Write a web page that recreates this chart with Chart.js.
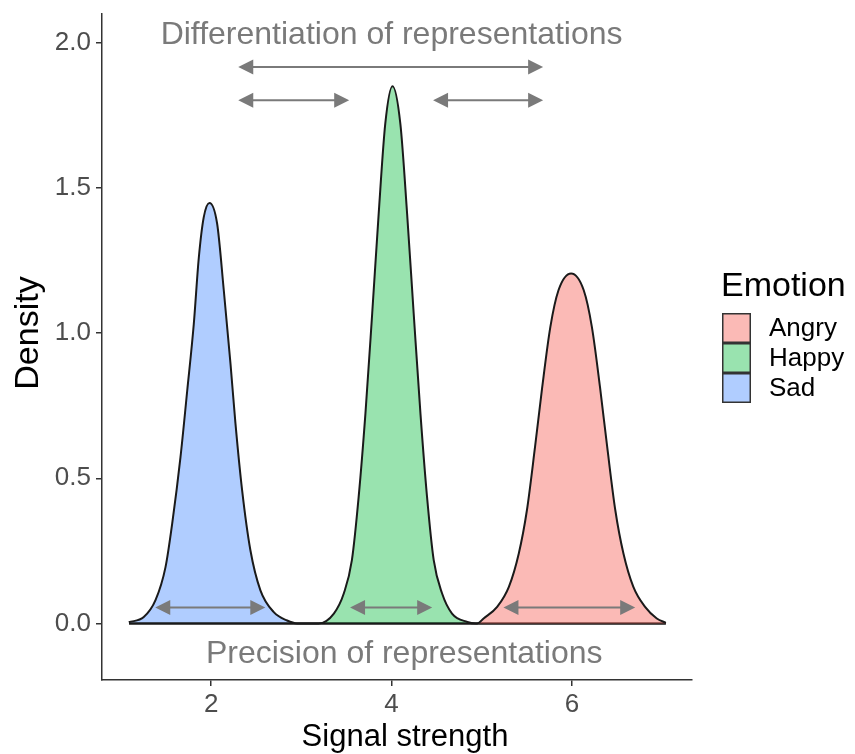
<!DOCTYPE html>
<html>
<head>
<meta charset="utf-8">
<script src="https://cdn.jsdelivr.net/npm/chart.js@4.4.1/dist/chart.umd.min.js"></script>
<style>
  html, body { margin: 0; padding: 0; background: #ffffff; }
  #wrap { width: 855px; height: 754px; }
</style>
</head>
<body>
<div id="wrap"><canvas id="c" width="855" height="754"></canvas></div>
<script>
// ---------------- DATA ----------------
const seriesLabels = ["Angry", "Happy", "Sad"];

const angryX = [1.09, 4.95, 5.02, 5.17, 5.30, 5.41, 5.50, 5.59, 5.67, 5.76, 5.85, 5.99, 6.13, 6.22, 6.31, 6.39, 6.48, 6.57, 6.68, 6.81, 6.94, 7.04];
const angryY = [0.00, 0.000, 0.017, 0.057, 0.126, 0.241, 0.390, 0.608, 0.815, 1.022, 1.148, 1.206, 1.148, 1.022, 0.815, 0.608, 0.390, 0.241, 0.126, 0.057, 0.017, 0.002];

const happyX = [1.09, 3.19, 3.36, 3.47, 3.56, 3.635, 3.71, 3.785, 3.857, 3.93, 4.01, 4.097, 4.172, 4.245, 4.32, 4.393, 4.467, 4.56, 4.67, 4.84, 4.93, 7.04];
const happyY = [0.00, 0.000, 0.034, 0.103, 0.218, 0.436, 0.723, 1.068, 1.412, 1.722, 1.851, 1.722, 1.412, 1.068, 0.723, 0.436, 0.218, 0.103, 0.034, 0.005, 0.000, 0.00];

const sadX = [1.087, 1.253, 1.383, 1.494, 1.568, 1.66, 1.734, 1.807, 1.863, 1.918, 1.981, 2.066, 2.14, 2.214, 2.269, 2.343, 2.435, 2.546, 2.694, 2.842, 2.953, 7.04];
const sadY = [0.004, 0.022, 0.080, 0.194, 0.344, 0.573, 0.800, 1.030, 1.260, 1.400, 1.449, 1.378, 1.148, 0.896, 0.690, 0.459, 0.252, 0.114, 0.039, 0.010, 0.000, 0.00];

const xTicks = [2, 4, 6];
const yTicks = [0.0, 0.5, 1.0, 1.5, 2.0];

// annotation arrows: [xStart, xEnd, y] in data units
const differentiationArrows = [[2.30, 5.68, 1.917], [2.30, 3.53, 1.803], [4.46, 5.68, 1.803]];
const precisionArrows = [[1.38, 2.60, 0.055], [3.54, 4.45, 0.055], [5.24, 6.70, 0.055]];
// annotation texts: [text, xCenter, yBaseline] in data units
const annotationTexts = [["Differentiation of representations", 4.0, 1.995], ["Precision of representations", 4.14, -0.137]];

const xTitle = "Signal strength";
const yTitle = "Density";
const legendTitle = "Emotion";
// -------------------------------------------------------------------------

const FONT = "'Liberation Sans', Arial, Helvetica, sans-serif";
const fills = { Angry: "rgba(248,118,109,0.5)", Happy: "rgba(0,186,56,0.4)", Sad: "rgba(97,156,255,0.5)" };

function pts(xs, ys) { return xs.map((x, i) => ({ x: x, y: ys[i] })); }
const seriesData = { Angry: pts(angryX, angryY), Happy: pts(happyX, happyY), Sad: pts(sadX, sadY) };

const datasets = seriesLabels.map(lab => ({
  label: lab,
  data: seriesData[lab],
  showLine: true,
  fill: "origin",
  backgroundColor: fills[lab],
  borderColor: "#1a1a1a",
  borderWidth: 2,
  pointRadius: 0,
  pointHoverRadius: 0,
  cubicInterpolationMode: "monotone"
}));

function drawArrow(ctx, x1, x2, y) {
  const L = 15, H = 7.5;
  ctx.save();
  ctx.strokeStyle = "#7a7a7a";
  ctx.fillStyle = "#7a7a7a";
  ctx.lineWidth = 2;
  ctx.beginPath();
  ctx.moveTo(x1 + L - 1, y);
  ctx.lineTo(x2 - L + 1, y);
  ctx.stroke();
  ctx.beginPath();
  ctx.moveTo(x1, y); ctx.lineTo(x1 + L, y - H); ctx.lineTo(x1 + L, y + H); ctx.closePath(); ctx.fill();
  ctx.beginPath();
  ctx.moveTo(x2, y); ctx.lineTo(x2 - L, y - H); ctx.lineTo(x2 - L, y + H); ctx.closePath(); ctx.fill();
  ctx.restore();
}

const annotPlugin = {
  id: "annot",
  afterDatasetsDraw(chart) {
    const ctx = chart.ctx, xs = chart.scales.x, ys = chart.scales.y;
    differentiationArrows.concat(precisionArrows).forEach(a => {
      drawArrow(ctx, xs.getPixelForValue(a[0]), xs.getPixelForValue(a[1]), ys.getPixelForValue(a[2]));
    });
    ctx.save();
    ctx.fillStyle = "#7a7a7a";
    ctx.font = "32px " + FONT;
    ctx.textAlign = "center";
    ctx.textBaseline = "alphabetic";
    annotationTexts.forEach(t => {
      ctx.fillText(t[0], xs.getPixelForValue(t[1]), ys.getPixelForValue(t[2]));
    });
    ctx.restore();
  },
  afterDraw(chart) {
    const ctx = chart.ctx, ca = chart.chartArea;
    ctx.save();
    // axis titles
    ctx.fillStyle = "#000000";
    ctx.font = "31px " + FONT;
    ctx.textAlign = "center";
    ctx.textBaseline = "alphabetic";
    ctx.fillText(xTitle, (ca.left + ca.right) / 2 + 8, 746);
    ctx.save();
    ctx.translate(38, 333);
    ctx.rotate(-Math.PI / 2);
    ctx.font = "34px " + FONT;
    ctx.fillText(yTitle, 0, 0);
    ctx.restore();
    // legend
    ctx.textAlign = "left";
    ctx.font = "34px " + FONT;
    ctx.fillText(legendTitle, 721, 296);
    const kx = 722, kw = 29, kh = 30, ky0 = 313;
    ctx.font = "26px " + FONT;
    chart.data.datasets.forEach((ds, i) => {
      const ky = ky0 + i * kh;
      ctx.fillStyle = "#ffffff";
      ctx.fillRect(kx, ky, kw, kh);
      ctx.fillStyle = ds.backgroundColor;
      ctx.fillRect(kx, ky, kw, kh);
      ctx.strokeStyle = "#333333";
      ctx.lineWidth = 1.5;
      ctx.strokeRect(kx + 0.75, ky + 0.75, kw - 1.5, kh - 1.5);
      ctx.fillStyle = "#000000";
      ctx.textBaseline = "middle";
      ctx.fillText(ds.label, 769, ky + kh / 2 + 1);
    });
    ctx.restore();
  }
};

new Chart(document.getElementById("c"), {
  type: "scatter",
  data: { datasets: datasets },
  options: {
    responsive: false,
    animation: false,
    devicePixelRatio: 1,
    layout: { padding: { left: 0, top: 14, right: 163, bottom: 0 } },
    plugins: { legend: { display: false }, tooltip: { enabled: false } },
    scales: {
      x: {
        type: "linear",
        min: 0.79, max: 7.33,
        afterBuildTicks: s => { s.ticks = xTicks.map(v => ({ value: v })); },
        afterFit: s => { s.height = 74; s.paddingLeft = 0; s.paddingRight = 0; },
        ticks: { color: "#4d4d4d", font: { family: FONT, size: 26 }, padding: 3, callback: v => String(v) },
        grid: { display: true, drawOnChartArea: false, drawTicks: true, tickLength: 6, color: "#333333", lineWidth: 1.5 },
        border: { display: true, color: "#333333", width: 1.5 }
      },
      y: {
        type: "linear",
        min: -0.195, max: 2.1,
        afterBuildTicks: s => { s.ticks = yTicks.map(v => ({ value: v })); },
        afterFit: s => { s.width = 102; s.paddingTop = 0; s.paddingBottom = 0; },
        ticks: { color: "#4d4d4d", font: { family: FONT, size: 26 }, padding: 5, callback: v => Number(v).toFixed(1) },
        grid: { display: true, drawOnChartArea: false, drawTicks: true, tickLength: 6, color: "#333333", lineWidth: 1.5 },
        border: { display: true, color: "#333333", width: 1.5 }
      }
    }
  },
  plugins: [annotPlugin]
});
</script>
</body>
</html>
